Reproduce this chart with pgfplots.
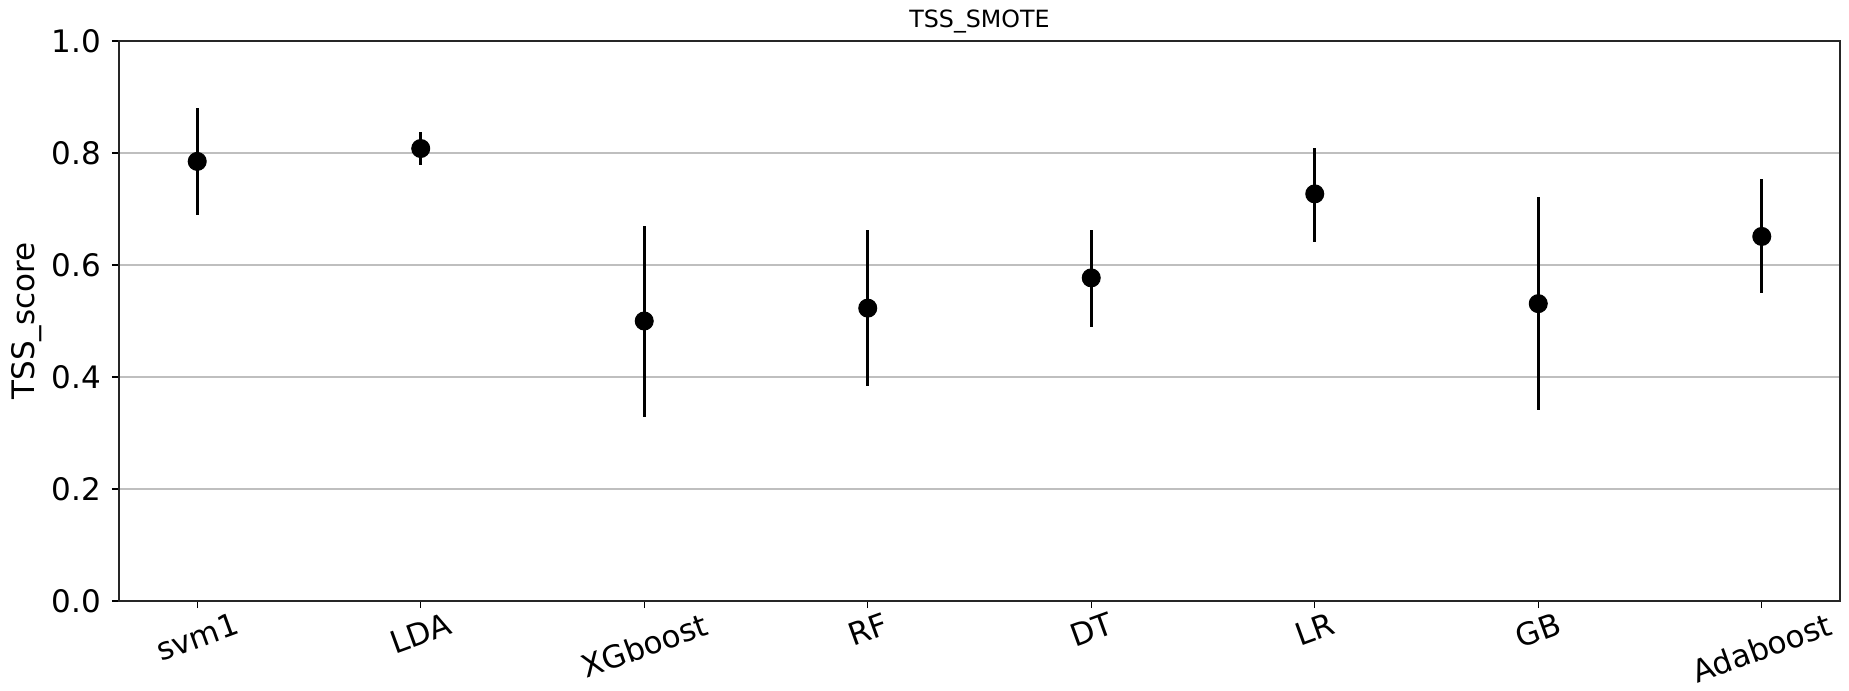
\documentclass[border=0pt]{standalone}
\usepackage{fontspec}
\setmainfont{DejaVu Sans}
\usepackage{graphicx}
\usepackage{pgfplots}
\pgfplotsset{compat=1.18}
\usepackage{pgfplotstable}

\pgfplotstableread{
x y ep em
0 0.785 0.096 0.095
1 0.808 0.029 0.029
2 0.500 0.169 0.172
3 0.523 0.140 0.139
4 0.577 0.086 0.087
5 0.727 0.082 0.086
6 0.531 0.190 0.190
7 0.651 0.103 0.101
}\tssdata

\begin{document}
\begin{tikzpicture}
\begin{axis}[
  scale only axis,
  width=688.4pt, height=224pt,
  xmin=-0.35, xmax=7.35,
  ymin=0, ymax=1,
  xtick={0,1,2,3,4,5,6,7},
  xticklabels={\rotatebox{20}{svm1},\rotatebox{20}{LDA},\rotatebox{20}{XGboost},\rotatebox{20}{RF},\rotatebox{20}{DT},\rotatebox{20}{LR},\rotatebox{20}{GB},\rotatebox{20}{Adaboost}},
  ytick={0,0.2,0.4,0.6,0.8,1.0},
  yticklabels={0.0,0.2,0.4,0.6,0.8,1.0},
  xtick pos=bottom, ytick pos=left,
  tick align=outside,
  major tick length=2.8pt,
  every tick/.style={black, line width=0.45pt},
  axis line style={line width=0.55pt, black!85},
  ymajorgrids,
  grid style={line width=0.7pt, color=black!25},
  /pgf/number format/assume math mode=true,
  ticklabel style={font=\fontsize{12.4}{14}\selectfont},
  xticklabel style={anchor=north, yshift=2pt},
  yticklabel style={xshift=-0.8pt},
  ylabel={TSS\_score},
  ylabel style={font=\fontsize{12.4}{14}\selectfont, at={(axis description cs:-0.0535,0.5)}, anchor=center},
  title={TSS\_SMOTE},
  title style={font=\fontsize{9.5}{11}\selectfont, at={(axis description cs:0.5,1)}, anchor=base, yshift=-0.6pt},
]
\addplot[only marks, mark=*, mark size=3.6pt, black,
  error bars/.cd, y dir=both, y explicit, error mark=none,
  error bar style={line width=1.2pt, black}]
  table[x=x, y=y, y error plus=ep, y error minus=em] {\tssdata};
\end{axis}
\pgfresetboundingbox
\path[use as bounding box] ([xshift=-47.6pt,yshift=-35.6pt]current axis.south west) rectangle ([xshift=3.6pt,yshift=16.4pt]current axis.north east);
\end{tikzpicture}
\end{document}
